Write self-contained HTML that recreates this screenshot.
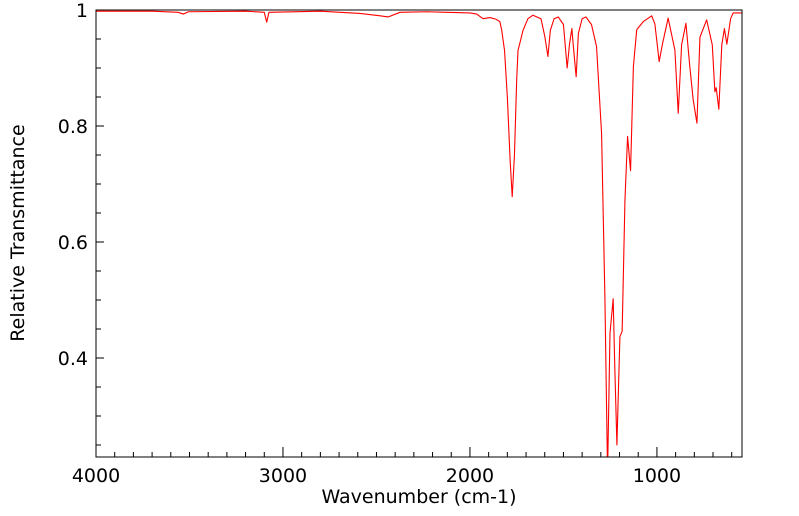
<!DOCTYPE html>
<html><head><meta charset="utf-8"><style>
body{margin:0;background:#fff;}
svg{display:block;font-family:"DejaVu Sans","Liberation Sans",sans-serif;}
</style></head><body>
<svg id="chart" width="799" height="516">
<defs><clipPath id="clip"><rect x="96" y="10" width="646" height="447"/></clipPath></defs>
<g id="ticks"></g>
<g id="labels"></g>
<path id="line" clip-path="url(#clip)" fill="none" stroke="#ff0000" stroke-width="1.1" stroke-linejoin="round"/>
<rect x="96" y="10" width="646" height="447" fill="none" stroke="#000" stroke-width="1"/>
<text x="419" y="503" font-size="19" text-anchor="middle">Wavenumber (cm-1)</text>
<text x="0" y="0" font-size="19" text-anchor="middle" transform="translate(24,233) rotate(-90)">Relative Transmittance</text>
</svg>
<script>
const wavenumbers=[4000,3700,3560,3533,3505,3200,3100,3087,3075,2800,2588,2480,2438,2374,2230,2123,2000,1964,1930,1893,1860,1840,1830,1815,1800,1785,1774,1762,1750,1743,1716,1690,1663,1620,1600,1583,1570,1550,1528,1500,1480,1468,1455,1445,1432,1420,1400,1380,1350,1323,1296,1278,1264,1251,1234,1225,1214,1198,1186,1171,1157,1141,1126,1108,1073,1028,1011,988,970,940,904,886,868,845,824,806,786,770,734,704,690,683,669,653,639,626,606,592,545];
const transmittance=[0.998,0.998,0.996,0.993,0.997,0.998,0.996,0.979,0.996,0.998,0.994,0.99,0.988,0.996,0.997,0.996,0.995,0.993,0.985,0.987,0.984,0.980,0.965,0.93,0.85,0.74,0.678,0.75,0.88,0.93,0.965,0.985,0.991,0.985,0.955,0.92,0.965,0.985,0.988,0.975,0.90,0.94,0.968,0.93,0.885,0.96,0.985,0.988,0.975,0.937,0.787,0.5,0.2,0.443,0.502,0.38,0.25,0.437,0.446,0.672,0.782,0.723,0.902,0.966,0.98,0.99,0.976,0.911,0.942,0.986,0.931,0.822,0.94,0.977,0.902,0.845,0.805,0.953,0.983,0.94,0.859,0.866,0.829,0.94,0.968,0.941,0.985,0.995,0.995];
const xTickValues=[4000,3000,2000,1000];
const xTickLabels=["4000","3000","2000","1000"];
const yTickValues=[1,0.8,0.6,0.4];
const yTickLabels=["1","0.8","0.6","0.4"];
const L=96,R=742,T=10,B=457,XMAX=4000,XMIN=545,YMAX=1,YMIN=0.2293;
function sx(v){return L+(XMAX-v)/(XMAX-XMIN)*(R-L);}
function sy(v){return T+(YMAX-v)/(YMAX-YMIN)*(B-T);}
const NS="http://www.w3.org/2000/svg";
let d="";
for(let i=0;i<wavenumbers.length;i++){d+=(i?"L":"M")+sx(wavenumbers[i]).toFixed(2)+","+sy(transmittance[i]).toFixed(2);}
document.getElementById("line").setAttribute("d",d);
const tg=document.getElementById("ticks"),lg=document.getElementById("labels");
function ln(x1,y1,x2,y2){const l=document.createElementNS(NS,"line");l.setAttribute("x1",x1);l.setAttribute("y1",y1);l.setAttribute("x2",x2);l.setAttribute("y2",y2);l.setAttribute("stroke","#000");


tg.appendChild(l);}
for(let w=600;w<=4000;w+=100){const x=sx(w);ln(x,B,x,B-(w%1000===0?10:5));}
for(let k=5;k<=20;k++){const v=k*0.05;if(v<YMIN)continue;const y=sy(v);ln(L,y,L+(k%4===0?8:5),y);}
function txt(x,y,s,anchor){const t=document.createElementNS(NS,"text");t.setAttribute("x",x);t.setAttribute("y",y);t.setAttribute("font-size","19");t.setAttribute("text-anchor",anchor);t.textContent=s;


lg.appendChild(t);}
xTickValues.forEach((v,i)=>txt(sx(v),482,xTickLabels[i],"middle"));
yTickValues.forEach((v,i)=>txt(88,sy(v)+7,yTickLabels[i],"end"));
</script>
</body></html>
